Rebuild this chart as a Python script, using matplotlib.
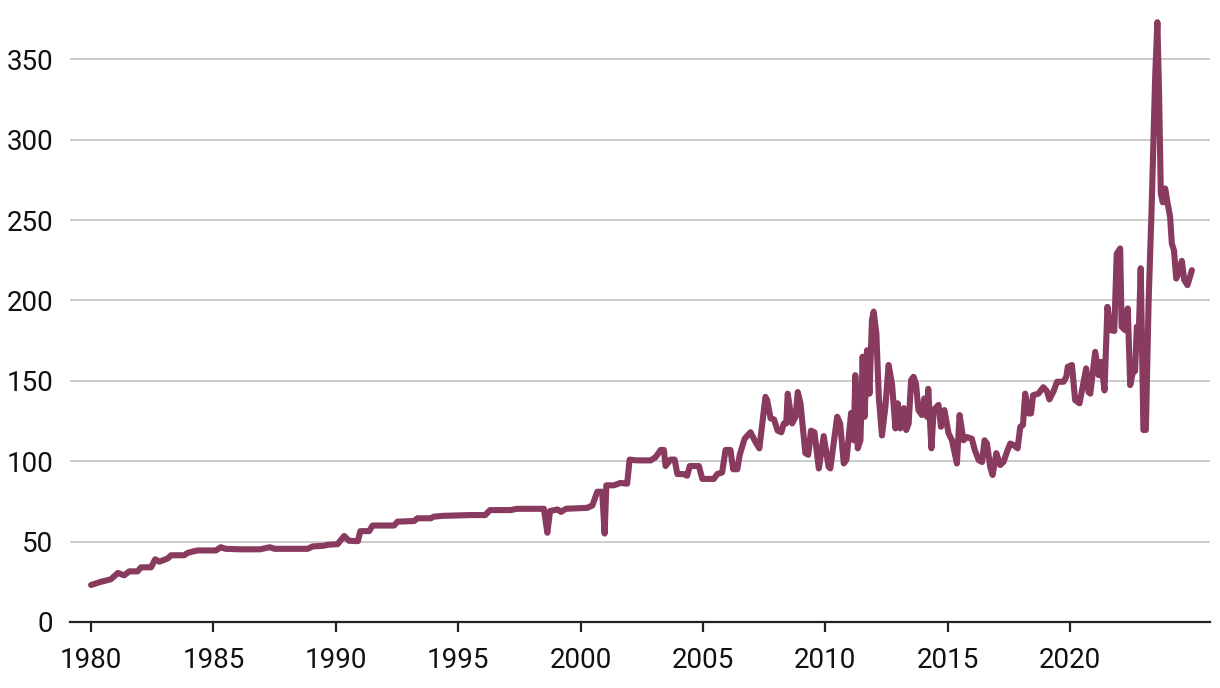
import matplotlib
matplotlib.use("Agg")
import matplotlib.pyplot as plt

plt.rcParams['font.family'] = ['Roboto', 'DejaVu Sans']

years = [
    1980.0, 1980.4, 1980.8, 1981.1, 1981.35, 1981.56, 1981.9, 1982.04, 1982.45, 1982.62,
    1982.79, 1983.13, 1983.27, 1983.8, 1983.95, 1984.2, 1984.35, 1985.1, 1985.3, 1985.5,
    1986.1, 1986.9, 1987.3, 1987.5, 1988.85, 1989.05, 1989.5, 1989.66, 1990.07, 1990.34,
    1990.54, 1990.9, 1991.0, 1991.36, 1991.5, 1992.38, 1992.52, 1993.2, 1993.33, 1993.88,
    1994.0, 1994.36, 1995.5, 1996.1, 1996.3, 1997.14, 1997.4, 1998.5, 1998.64, 1998.75,
    1999.05, 1999.2, 1999.4, 2000.27, 2000.48, 2000.68, 2000.88, 2000.98, 2001.05, 2001.36,
    2001.63, 2001.9, 2002.0, 2002.3, 2002.86, 2003.06, 2003.27, 2003.4, 2003.47, 2003.67,
    2003.84, 2003.95, 2004.2, 2004.35, 2004.46, 2004.83, 2004.97, 2005.44, 2005.58, 2005.78,
    2005.92, 2006.12, 2006.23, 2006.4, 2006.5, 2006.7, 2006.94, 2007.14, 2007.3, 2007.55,
    2007.62, 2007.76, 2007.9, 2008.05, 2008.2, 2008.3, 2008.4, 2008.46, 2008.64, 2008.78,
    2008.87, 2008.98, 2009.18, 2009.3, 2009.41, 2009.55, 2009.73, 2009.93, 2010.13, 2010.2,
    2010.48, 2010.6, 2010.75, 2010.86, 2011.05, 2011.16, 2011.22, 2011.32, 2011.43, 2011.52,
    2011.6, 2011.7, 2011.8, 2011.9, 2011.97, 2012.08, 2012.18, 2012.31, 2012.45, 2012.58,
    2012.72, 2012.86, 2012.95, 2013.06, 2013.2, 2013.3, 2013.4, 2013.5, 2013.6, 2013.7,
    2013.8, 2013.94, 2014.04, 2014.15, 2014.2, 2014.33, 2014.42, 2014.62, 2014.72, 2014.86,
    2015.03, 2015.17, 2015.37, 2015.48, 2015.64, 2015.78, 2015.98, 2016.1, 2016.26, 2016.4,
    2016.5, 2016.6, 2016.73, 2016.83, 2016.98, 2017.14, 2017.28, 2017.42, 2017.55, 2017.69,
    2017.85, 2017.96, 2018.07, 2018.16, 2018.3, 2018.4, 2018.48, 2018.7, 2018.9, 2019.05,
    2019.15, 2019.32, 2019.46, 2019.73, 2019.84, 2019.9, 2020.07, 2020.2, 2020.38, 2020.48,
    2020.65, 2020.75, 2020.82, 2021.02, 2021.16, 2021.27, 2021.4, 2021.52, 2021.66, 2021.8,
    2021.9, 2022.04, 2022.1, 2022.24, 2022.35, 2022.45, 2022.56, 2022.65, 2022.72, 2022.8,
    2022.88, 2022.99, 2023.09, 2023.2, 2023.33, 2023.47, 2023.56, 2023.63, 2023.7, 2023.78,
    2023.88, 2023.97, 2024.08, 2024.15, 2024.24, 2024.33, 2024.42, 2024.56, 2024.66, 2024.79,
    2024.97,
]

values = [
    23, 25, 26.5, 30.5, 29, 31.5, 31.5, 34, 34, 39,
    37.5, 39.5, 41.5, 41.5, 43, 44, 44.5, 44.5, 46.5, 45.5,
    45.2, 45.2, 46.5, 45.5, 45.5, 47, 47.4, 48, 48.4, 53.5,
    50.5, 50.3, 56.5, 56.5, 60, 60, 62.4, 62.8, 64.5, 64.5,
    65.5, 66, 66.5, 66.5, 69.6, 69.6, 70.4, 70.4, 55.5, 69,
    70, 68.5, 70.4, 71, 72.5, 81, 81, 55, 85, 85,
    86.5, 86, 101, 100.5, 100.5, 102.5, 107, 107, 97, 101,
    101, 92, 92, 91, 97, 97, 89, 89, 92, 93,
    107, 107, 95, 95, 104, 114, 118, 112, 108, 140,
    138, 126.6, 126, 119, 118, 123.5, 123.5, 142, 123.5, 127.6,
    143, 136, 105, 104, 119, 118, 95.5, 115.6, 96.5, 95.5,
    127.6, 123.5, 98.6, 101, 130, 113, 153.5, 108, 113, 165,
    127.6, 169, 142, 187.7, 193, 179.5, 140, 116, 134, 159.8,
    148, 120.4, 136, 120.4, 133, 119.4, 123.5, 150.4, 152.5, 148,
    131.8, 128.7, 139, 127.6, 145, 108, 131.8, 135, 121.4, 131.8,
    117.3, 113, 98.6, 128.7, 113, 115, 114, 107, 100.7, 99.5,
    113, 111, 96.5, 91.4, 105, 97.6, 99.7, 106, 111, 110,
    108, 121.4, 122.5, 142, 129.7, 129.7, 141, 142, 146, 143.5,
    138.4, 143.5, 149.4, 149.4, 152.5, 158.7, 159.8, 138, 136, 144,
    157.7, 143, 142, 168, 153.5, 161.8, 144, 196, 181.5, 181,
    229, 232.3, 183.6, 181.5, 195, 147.3, 155.6, 156, 183.6, 179,
    220, 119.4, 119.4, 198, 260, 339, 373, 328.6, 266.5, 261,
    269.6, 261, 252, 235.4, 231, 213.6, 216.5, 224.6, 212.6, 209.5,
    218.8,
]

x_ticks = [1980, 1985, 1990, 1995, 2000, 2005, 2010, 2015, 2020]
y_ticks = [0, 50, 100, 150, 200, 250, 300, 350]

fig = plt.figure(figsize=(12.2, 6.88), dpi=100)
ax = fig.add_axes([70 / 1220, (688 - 622) / 688, (1210 - 70) / 1220, (622 - 19) / 688])

ax.plot(years, values, color="#893B5F", lw=4.4, solid_joinstyle="round",
        solid_capstyle="round", zorder=3)

ax.set_xlim(1979.14, 2025.71)
ax.set_ylim(0, 375)
ax.set_xticks(x_ticks)
ax.set_xticklabels([str(t) for t in x_ticks])
ax.set_yticks(y_ticks)
ax.set_yticklabels([str(t) for t in y_ticks])

for y in y_ticks[1:]:
    ax.axhline(y, color="#CCCCCC", lw=1.4, zorder=1)

for s in ["top", "right", "left"]:
    ax.spines[s].set_visible(False)
ax.spines["bottom"].set_color("#222222")
ax.spines["bottom"].set_linewidth(1.6)

ax.tick_params(axis="x", direction="out", length=7, width=1.6, color="#222222",
               labelsize=20, pad=11, labelcolor="#111111")
ax.tick_params(axis="y", length=0, labelsize=20, pad=12, labelcolor="#111111")

fig.savefig("out.png", dpi=100)
